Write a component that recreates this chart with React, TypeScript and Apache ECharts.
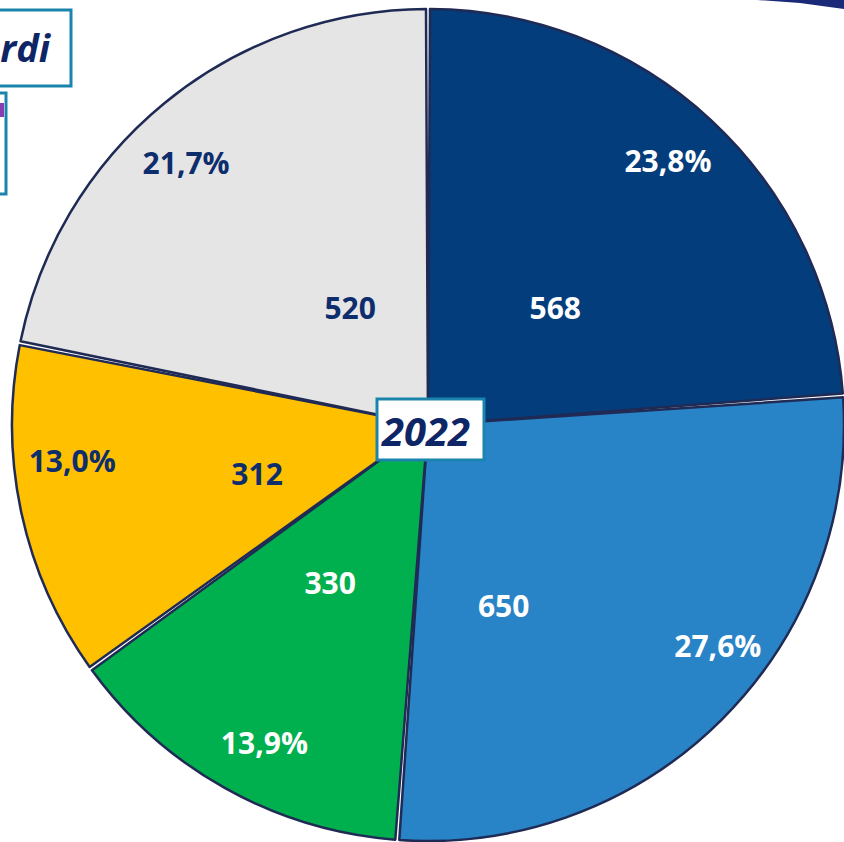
import React, { useEffect, useRef } from "react";
import * as echarts from "echarts";

const categories = ["A", "B", "C", "D", "E"];
const values = [568, 650, 330, 312, 520];
const percentLabels = ["23,8%", "27,6%", "13,9%", "13,0%", "21,7%"];
const sliceColors = ["#043d7c", "#2984c7", "#00b04f", "#ffc000", "#e5e5e5"];
const labelColors = ["#ffffff", "#ffffff", "#ffffff", "#0e2d6d", "#0e2d6d"];
const yearLabel = "2022";
const cornerLabel = "rdi";

const valueOffsets = [[6, 13], [-50, 54], [-11, 2], [3, 11], [35, 20]];
const pctOffsets = [[-4, -2], [37, -33], [11, 5], [-6, -40], [-15, 14]];

const CX = 428;
const CY = 425;
const R = 416;
const FONT = "'Open Sans', sans-serif";

export default function App() {
  const ref = useRef<HTMLDivElement>(null);
  useEffect(() => {
    if (!ref.current) return;
    const chart = echarts.init(ref.current, null, { renderer: "svg" });
    const baseLabel = {
      show: true,
      position: "inside",
      fontFamily: FONT,
      fontWeight: "bold",
      fontSize: 30,
    };
    chart.setOption({
      animation: false,
      backgroundColor: "#ffffff",
      series: [
        {
          type: "pie",
          center: [CX, CY],
          radius: [0, R],
          startAngle: 90,
          clockwise: true,
          padAngle: 0.55,
          silent: true,
          label: { show: false },
          labelLine: { show: false },
          itemStyle: { borderColor: "#1f2a55", borderWidth: 2.5 },
          data: categories.map((c, i) => ({
            name: c,
            value: values[i],
            itemStyle: { color: sliceColors[i] },
          })),
        },
        {
          type: "pie",
          center: [CX, CY],
          radius: [0, 350],
          startAngle: 90,
          clockwise: true,
          silent: true,
          labelLine: { show: false },
          itemStyle: { color: "transparent", borderWidth: 0 },
          data: categories.map((c, i) => ({
            name: c,
            value: values[i],
            label: {
              ...baseLabel,
              color: labelColors[i],
              formatter: String(values[i]),
              offset: valueOffsets[i],
            },
          })),
        },
        {
          type: "pie",
          center: [CX, CY],
          radius: [294, R],
          startAngle: 90,
          clockwise: true,
          silent: true,
          labelLine: { show: false },
          itemStyle: { color: "transparent", borderWidth: 0 },
          data: categories.map((c, i) => ({
            name: c,
            value: values[i],
            label: {
              ...baseLabel,
              color: labelColors[i],
              formatter: percentLabels[i],
              offset: pctOffsets[i],
            },
          })),
        },
      ],
      graphic: [
        {
          type: "polygon",
          shape: { points: [[757, 0], [844, 0], [844, 9], [800, 3]] },
          style: { fill: "#1b2a78" },
          z: 10,
        },
        {
          type: "rect",
          shape: { x: -10, y: 10, width: 81, height: 76 },
          style: { fill: "#ffffff", stroke: "#1a84ad", lineWidth: 3 },
          z: 10,
        },
        {
          type: "text",
          x: 50,
          y: 47,
          style: {
            text: cornerLabel,
            fill: "#0e2566",
            font: "italic bold 38px 'Open Sans', sans-serif",
            align: "right",
            verticalAlign: "middle",
          },
          z: 11,
        },
        {
          type: "rect",
          shape: { x: -10, y: 93, width: 16, height: 101 },
          style: { fill: "#ffffff", stroke: "#1a84ad", lineWidth: 3 },
          z: 10,
        },
        {
          type: "rect",
          shape: { x: 0, y: 103, width: 4, height: 14 },
          style: { fill: "#8a3db0" },
          z: 11,
        },
        {
          type: "rect",
          shape: { x: 377, y: 399, width: 107, height: 61 },
          style: { fill: "#ffffff", stroke: "#1a84ad", lineWidth: 3 },
          z: 10,
        },
        {
          type: "text",
          x: 426,
          y: 430,
          style: {
            text: yearLabel,
            fill: "#0e2566",
            font: "italic bold 40px 'Open Sans', sans-serif",
            align: "center",
            verticalAlign: "middle",
          },
          z: 11,
        },
      ],
    });
    return () => chart.dispose();
  }, []);
  return (
    <div
      ref={ref}
      style={{ position: "absolute", left: 0, top: 0, width: 844, height: 842 }}
    />
  );
}
